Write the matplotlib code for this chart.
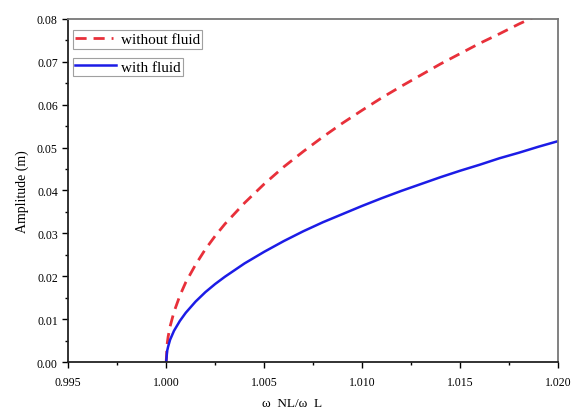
import matplotlib
matplotlib.use("Agg")
import matplotlib.pyplot as plt
from matplotlib.ticker import MultipleLocator, FormatStrFormatter

plt.rcParams['font.family'] = ['Liberation Serif', 'DejaVu Serif']

freq_ratio = [1.0, 1.00005, 1.0001, 1.0002, 1.0004, 1.0007, 1.001, 1.0015, 1.002,
              1.0025, 1.003, 1.004, 1.005, 1.006, 1.007, 1.008, 1.009, 1.010,
              1.011, 1.012, 1.013, 1.014, 1.015, 1.016, 1.017, 1.018, 1.019, 1.020]
amp_without_fluid = [0.0, 0.0042, 0.0059, 0.0083, 0.0117, 0.0155, 0.0186, 0.0227,
                     0.0263, 0.0294, 0.0322, 0.0371, 0.0415, 0.0455, 0.0491, 0.0525,
                     0.0557, 0.0587, 0.0616, 0.0643, 0.0669, 0.0695, 0.0719, 0.0743,
                     0.0765, 0.0788, 0.0809, 0.0830]
amp_with_fluid = [0.0, 0.0026, 0.0036, 0.0052, 0.0073, 0.0096, 0.0115, 0.0141,
                  0.0163, 0.0182, 0.0199, 0.0230, 0.0257, 0.0282, 0.0305, 0.0326,
                  0.0345, 0.0364, 0.0382, 0.0399, 0.0415, 0.0431, 0.0446, 0.0460,
                  0.0475, 0.0488, 0.0502, 0.0515]

fig = plt.figure(figsize=(5.73, 4.14), dpi=100)
ax = fig.add_axes([0.119, 0.123, 0.855, 0.829])

l1, = ax.plot(freq_ratio, amp_without_fluid, color='#e8303a', lw=2.0,
              linestyle=(0, (4, 2.5)), label='without fluid')
l2, = ax.plot(freq_ratio, amp_with_fluid, color='#1c1ce6', lw=1.8, label='with fluid')

ax.set_xlim(0.995, 1.020)
ax.set_ylim(0.0, 0.08)
ax.xaxis.set_major_locator(MultipleLocator(0.005))
ax.xaxis.set_minor_locator(MultipleLocator(0.0025))
ax.yaxis.set_major_locator(MultipleLocator(0.01))
ax.yaxis.set_minor_locator(MultipleLocator(0.005))
ax.xaxis.set_major_formatter(FormatStrFormatter('%.3f'))
ax.yaxis.set_major_formatter(FormatStrFormatter('%.2f'))
ax.tick_params(which='major', direction='out', length=4, width=1, labelsize=8.5)
ax.tick_params(axis='x', which='major', pad=6)
ax.tick_params(which='minor', direction='out', length=2.5, width=1)
for s in ['left', 'bottom']:
    ax.spines[s].set_linewidth(1.3)
    ax.spines[s].set_color('#222222')
for s in ['top', 'right']:
    ax.spines[s].set_linewidth(1.3)
    ax.spines[s].set_color('#777777')

ax.set_xlabel('ω  NL/ω  L', fontsize=9.5)
ax.xaxis.set_label_coords(0.457, -0.103)
ax.set_ylabel('Amplitude (m)', fontsize=10, labelpad=6)

leg1 = ax.legend(handles=[l1], loc='upper left', bbox_to_anchor=(0.0, 0.98),
                 fontsize=11, frameon=True, fancybox=False, edgecolor='#888888',
                 borderpad=0.15, handlelength=2.5, handletextpad=0.5, borderaxespad=0.3)
ax.add_artist(leg1)
leg2 = ax.legend(handles=[l2], loc='upper left', bbox_to_anchor=(0.0, 0.90),
                 fontsize=11, frameon=True, fancybox=False, edgecolor='#888888',
                 borderpad=0.15, handlelength=2.7, handletextpad=0.3, borderaxespad=0.3)
for lg in (leg1, leg2):
    lg.get_frame().set_linewidth(0.8)

fig.savefig('out.png', dpi=100)
